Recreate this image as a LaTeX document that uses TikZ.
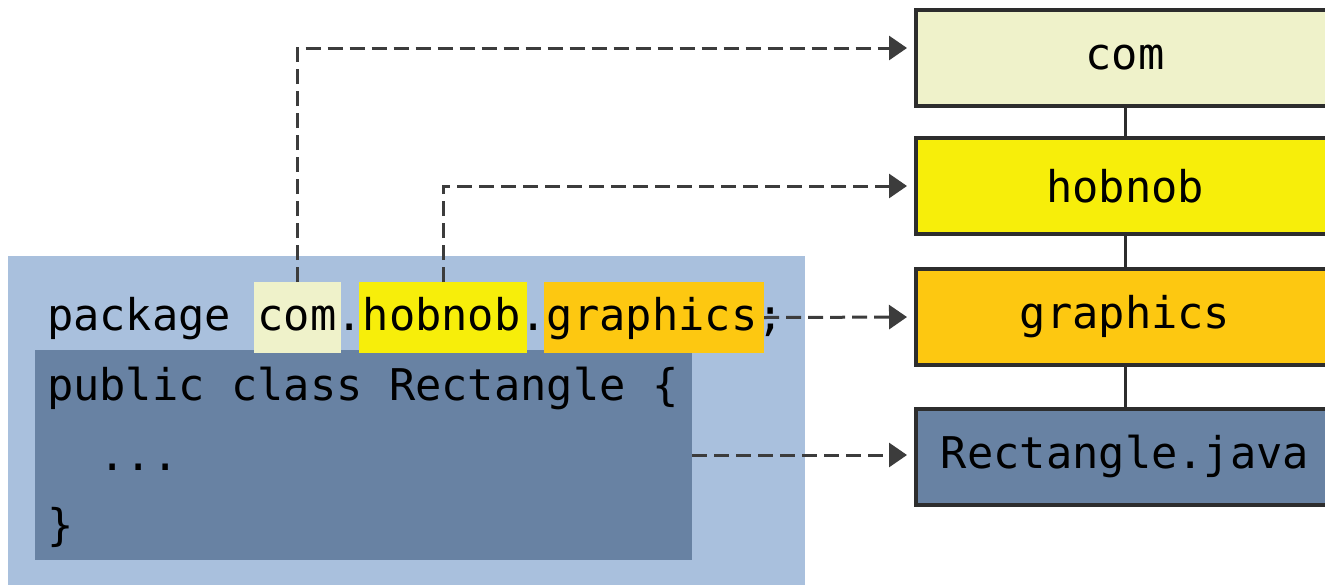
\documentclass[tikz,border=0pt]{standalone}
\usepackage{fontspec}
\setmonofont{DejaVu Sans Mono}
\usetikzlibrary{arrows.meta}
\definecolor{outerblue}{HTML}{A9C0DD}
\definecolor{innerblue}{HTML}{6882A3}
\definecolor{comcream}{HTML}{EFF2CA}
\definecolor{hobyellow}{HTML}{F7EE0A}
\definecolor{graorange}{HTML}{FDC811}
\definecolor{borderdark}{HTML}{2D2D2D}
\definecolor{arrowdark}{HTML}{3C3C3C}
\begin{document}
\begin{tikzpicture}[x=0.5pt,y=-0.5pt,
  every node/.style={font=\ttfamily\fontsize{21.85}{26}\selectfont, text=black},
  area/.style={anchor=north west, inner sep=0pt, outer sep=0pt, draw=none},
  pkgbox/.style={draw=borderdark, line width=2pt, minimum width=209pt, minimum height=48pt, inner sep=0pt, outer sep=0pt},
  codeline/.style={anchor=base west, inner sep=0pt, outer sep=0pt},
  link/.style={draw=borderdark, line width=1.5pt},
  ptr/.style={draw=arrowdark, line width=1.5pt, dash pattern=on 7.5pt off 3.5pt, -{Triangle[length=9pt,width=12pt]}, shorten >=4.5pt}
]
\useasboundingbox (0,0) rectangle (1325,584);
\clip (0,0) rectangle (1325,584);

% source file panel
\node[area, fill=outerblue, minimum width=398.5pt, minimum height=172pt] (outer) at (8,256) {};
\node[area, fill=innerblue, minimum width=328.5pt, minimum height=105pt] (inner) at (35,350) {};
\node[area, fill=comcream, minimum width=43.5pt, minimum height=35.5pt] (hcom) at (254,282) {};
\node[area, fill=hobyellow, minimum width=84pt, minimum height=35.5pt] (hhob) at (359,282) {};
\node[area, fill=graorange, minimum width=110pt, minimum height=35.5pt] (hgra) at (544,282) {};

% package hierarchy
\node[pkgbox, fill=comcream] (com) at (1125,57.5) {com};
\node[pkgbox, fill=hobyellow] (hob) at (1125,186) {hobnob};
\node[pkgbox, fill=graorange] (gra) at (1125,317) {graphics};
\node[pkgbox, fill=innerblue] (rect) at (1125,456.5) {Rectangle.java};

\draw[link] (com.south) -- (hob.north);
\draw[link] (hob.south) -- (gra.north);
\draw[link] (gra.south) -- (rect.north);

% pointers
\draw[ptr] (hcom.north) |- ([yshift=4.75pt]com.west);
\draw[ptr] (hhob.north) |- (hob.west);
\draw[ptr] (hgra.east) -- (gra.west);
\draw[ptr] (inner.east) -- (inner.east -| rect.west);

% code text
\node[codeline] (l1) at (47,330) {package com.hobnob.graphics;};
\node[codeline] (l2) at (47,400) {public class Rectangle \{};
\node[codeline] (l3) at (47,470) {\ \ ...};
\node[codeline] (l4) at (47,540) {\}};
\end{tikzpicture}
\end{document}
